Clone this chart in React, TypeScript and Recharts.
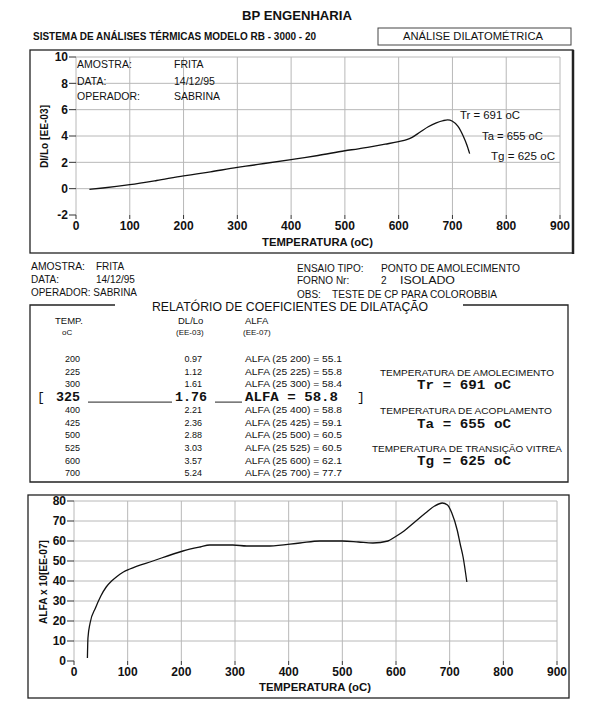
import { LineChart, Line, XAxis, YAxis, CartesianGrid } from "recharts";

const SANS = '"Liberation Sans", Arial, sans-serif';
const MONO = '"Liberation Mono", "Courier New", monospace';

// DL/Lo curve (EE-03)
const dlTemps = [25, 50, 100, 150, 200, 225, 250, 300, 325, 350, 400, 425, 450, 500, 525, 550, 575, 600, 615, 625, 640, 655, 670, 683, 691, 700, 710, 720, 727, 732];
const dlValues = [-0.05, 0.05, 0.3, 0.62, 0.97, 1.12, 1.28, 1.61, 1.76, 1.91, 2.21, 2.36, 2.52, 2.88, 3.03, 3.2, 3.38, 3.57, 3.72, 3.9, 4.3, 4.7, 5.0, 5.17, 5.22, 5.12, 4.75, 4.0, 3.3, 2.66];

// ALFA curve (x10 EE-07)
const alfaTemps = [25, 26, 30, 40, 50, 60, 70, 80, 92, 104, 147, 203, 235, 253, 296, 322, 365, 421, 458, 500, 530, 557, 585, 598, 615, 635, 655, 672, 686, 696, 704, 714, 720, 725, 732];
const alfaValues = [1.5, 11.5, 19, 26.5, 32.5, 37, 40, 42.3, 44.5, 46, 50, 55, 57, 58, 58, 57.5, 57.5, 59, 60, 60, 59.5, 59, 60, 62, 65, 69.5, 74, 77.5, 79, 78, 74, 65.5, 58, 52, 39.5];

const xTicks = [0, 100, 200, 300, 400, 500, 600, 700, 800, 900];
const dlTicks = [-2, 0, 2, 4, 6, 8, 10];
const alfaTicks = [0, 10, 20, 30, 40, 50, 60, 70, 80];

// report table
const tableTemps = ["200", "225", "300", "325", "400", "425", "500", "525", "600", "700"];
const tableDl = ["0.97", "1.12", "1.61", "1.76", "2.21", "2.36", "2.88", "3.03", "3.57", "5.24"];
const tableAlfa = ["55.1", "55.8", "58.4", "58.8", "58.8", "59.1", "60.5", "60.5", "62.1", "77.7"];
const selectedRow = 3;

const Tr = 691;
const Ta = 655;
const Tg = 625;

const dlData = dlTemps.map((t, i) => ({ t, v: dlValues[i] }));
const alfaData = alfaTemps.map((t, i) => ({ t, v: alfaValues[i] }));

const tickStyle = { fontSize: 12, fontWeight: "bold", fill: "#111", fontFamily: SANS };

type TxtProps = {
  x: number;
  y: number;
  size?: number;
  bold?: boolean;
  mono?: boolean;
  len?: number;
  anchor?: "start" | "middle" | "end";
  rotate?: boolean;
  children: any;
};

function Txt({ x, y, size = 10, bold, mono, len, anchor = "start", rotate, children }: TxtProps) {
  return (
    <text
      x={x}
      y={y}
      fontSize={size}
      fontWeight={bold ? "bold" : "normal"}
      fontFamily={mono ? MONO : SANS}
      textAnchor={anchor}
      fill="#111"
      textLength={len}
      lengthAdjust={len ? "spacingAndGlyphs" : undefined}
      transform={rotate ? `rotate(-90 ${x} ${y})` : undefined}
    >
      {children}
    </text>
  );
}

export default function App() {
  const rowY = (i: number) => 362 + i * 12.7;

  return (
    <div style={{ position: "absolute", left: 0, top: 0, width: 600, height: 726, background: "#fff", overflow: "hidden" }}>
      <div style={{ position: "absolute", left: 30, top: 50 }}>
        <LineChart width={543} height={203} data={dlData} margin={{ top: 7, right: 13, bottom: 18, left: 0 }}>
          <CartesianGrid stroke="#b8b8b8" horizontalValues={[0, 2, 4, 6, 8, 10]} verticalValues={xTicks} />
          <XAxis dataKey="t" type="number" domain={[0, 900]} ticks={xTicks} interval={0} axisLine={false} tickLine={{ stroke: "#333" }} tickSize={4} height={20} tick={tickStyle} />
          <YAxis type="number" domain={[-2, 10]} ticks={dlTicks} interval={0} width={46} axisLine={false} tickLine={{ stroke: "#333" }} tickSize={7} tickMargin={1} tick={tickStyle} />
          <Line dataKey="v" type="monotone" stroke="#111" strokeWidth={1.3} dot={false} isAnimationActive={false} />
        </LineChart>
      </div>

      <div style={{ position: "absolute", left: 28, top: 495 }}>
        <LineChart width={541} height={203} data={alfaData} margin={{ top: 6, right: 12, bottom: 17, left: 0 }}>
          <CartesianGrid stroke="#b8b8b8" horizontalValues={[10, 20, 30, 40, 50, 60, 70, 80]} verticalValues={xTicks} />
          <XAxis dataKey="t" type="number" domain={[0, 900]} ticks={xTicks} interval={0} axisLine={false} tickLine={{ stroke: "#333" }} tickSize={4} height={20} tick={tickStyle} />
          <YAxis type="number" domain={[0, 80]} ticks={alfaTicks} interval={0} width={46} axisLine={false} tickLine={{ stroke: "#333" }} tickSize={7} tickMargin={1} tick={tickStyle} />
          <Line dataKey="v" type="monotone" stroke="#111" strokeWidth={1.3} dot={false} isAnimationActive={false} />
        </LineChart>
      </div>

      <svg width={600} height={726} style={{ position: "absolute", left: 0, top: 0, pointerEvents: "none" }}>
        {/* header */}
        <Txt x={242} y={20} size={12} bold len={110}>BP ENGENHARIA</Txt>
        <Txt x={33} y={40} size={11} bold len={283}>SISTEMA DE ANÁLISES TÉRMICAS MODELO RB - 3000 - 20</Txt>
        <rect x={378} y={28} width={193} height={17} fill="none" stroke="#444" />
        <Txt x={403} y={40} size={11} len={140}>ANÁLISE DILATOMÉTRICA</Txt>

        {/* upper chart frame and texts */}
        <rect x={30} y={50} width={543} height={203} fill="none" stroke="#222" strokeWidth={1.3} />
        <line x1={573} y1={50} x2={573} y2={254} stroke="#222" strokeWidth={2.5} />
        <Txt x={77} y={68} size={10.5}>AMOSTRA:</Txt>
        <Txt x={174} y={68} size={10.5}>FRITA</Txt>
        <Txt x={77} y={85} size={10.5}>DATA:</Txt>
        <Txt x={174} y={85} size={10.5}>14/12/95</Txt>
        <Txt x={77} y={100} size={10.5}>OPERADOR:</Txt>
        <Txt x={174} y={100} size={10.5}>SABRINA</Txt>
        <Txt x={460} y={119} size={10.5} len={60}>{`Tr = ${Tr} oC`}</Txt>
        <Txt x={482} y={140} size={10.5} len={61}>{`Ta = ${Ta} oC`}</Txt>
        <Txt x={491} y={160} size={10.5} len={64}>{`Tg = ${Tg} oC`}</Txt>
        <Txt x={262} y={246} size={11} bold len={111}>TEMPERATURA (oC)</Txt>
        <Txt x={48} y={168} size={11} bold len={63} rotate>DI/Lo [EE-03]</Txt>

        {/* sample info */}
        <Txt x={31} y={270} size={10} len={54}>AMOSTRA:</Txt>
        <Txt x={96} y={270} size={10}>FRITA</Txt>
        <Txt x={31} y={283} size={10}>DATA:</Txt>
        <Txt x={96} y={283} size={10}>14/12/95</Txt>
        <Txt x={31} y={296} size={10} len={106}>OPERADOR: SABRINA</Txt>
        <Txt x={297} y={272} size={10}>ENSAIO TIPO:</Txt>
        <Txt x={381} y={272} size={10} len={139}>PONTO DE AMOLECIMENTO</Txt>
        <Txt x={297} y={284} size={10}>FORNO Nr:</Txt>
        <Txt x={381} y={284} size={10}>2</Txt>
        <Txt x={400} y={284} size={10} len={55}>ISOLADO</Txt>
        <Txt x={297} y={298} size={10}>OBS:</Txt>
        <Txt x={332} y={298} size={10} len={165}>TESTE DE CP PARA COLOROBBIA</Txt>

        {/* report table */}
        <path d="M115,305 H30 V482 H568 V305 H463" fill="none" stroke="#222" strokeWidth={1.3} />
        <Txt x={152} y={311} size={13} len={276}>RELATÓRIO DE COEFICIENTES DE DILATAÇÃO</Txt>
        <Txt x={55} y={324} size={9.5}>TEMP.</Txt>
        <Txt x={62} y={335} size={8}>oC</Txt>
        <Txt x={178} y={324} size={9.5}>DL/Lo</Txt>
        <Txt x={176} y={335} size={8}>(EE-03)</Txt>
        <Txt x={245} y={324} size={9.5}>ALFA</Txt>
        <Txt x={243} y={335} size={8}>(EE-07)</Txt>
        {tableTemps.map((t, i) =>
          i === selectedRow ? (
            <g key={t}>
              <Txt x={37} y={rowY(i) + 1} size={13} mono>[</Txt>
              <Txt x={56} y={rowY(i) + 1} size={12.5} mono bold len={24}>{t}</Txt>
              <line x1={88} y1={rowY(i) + 2} x2={172} y2={rowY(i) + 2} stroke="#222" />
              <Txt x={175} y={rowY(i) + 1} size={12.5} mono bold len={32}>{tableDl[i]}</Txt>
              <line x1={215} y1={rowY(i) + 2} x2={242} y2={rowY(i) + 2} stroke="#222" />
              <Txt x={245} y={rowY(i) + 1} size={12.5} mono bold len={93}>{`ALFA = ${tableAlfa[i]}`}</Txt>
              <Txt x={357} y={rowY(i) + 1} size={13} mono>]</Txt>
            </g>
          ) : (
            <g key={t}>
              <Txt x={80} y={rowY(i)} size={9} anchor="end">{t}</Txt>
              <Txt x={202} y={rowY(i)} size={9} anchor="end">{tableDl[i]}</Txt>
              <Txt x={245} y={rowY(i)} size={9} len={97}>{`ALFA (25 ${t}) = ${tableAlfa[i]}`}</Txt>
            </g>
          )
        )}
        <Txt x={467} y={376} size={9.5} anchor="middle" len={174}>TEMPERATURA DE AMOLECIMENTO</Txt>
        <Txt x={464} y={389} size={13} mono bold anchor="middle" len={94}>{`Tr = ${Tr} oC`}</Txt>
        <Txt x={466} y={414} size={9.5} anchor="middle" len={172}>TEMPERATURA DE ACOPLAMENTO</Txt>
        <Txt x={464} y={428} size={13} mono bold anchor="middle" len={94}>{`Ta = ${Ta} oC`}</Txt>
        <Txt x={467} y={452} size={9.5} anchor="middle" len={190}>TEMPERATURA DE TRANSIÇÃO VITREA</Txt>
        <Txt x={464} y={465} size={13} mono bold anchor="middle" len={94}>{`Tg = ${Tg} oC`}</Txt>

        {/* lower chart frame and texts */}
        <rect x={28} y={495} width={541} height={203} fill="none" stroke="#222" strokeWidth={1.3} />
        <Txt x={259} y={691} size={11} bold len={112}>TEMPERATURA (oC)</Txt>
        <Txt x={47} y={624} size={11} bold len={84} rotate>ALFA x 10[EE-07]</Txt>
      </svg>
    </div>
  );
}
